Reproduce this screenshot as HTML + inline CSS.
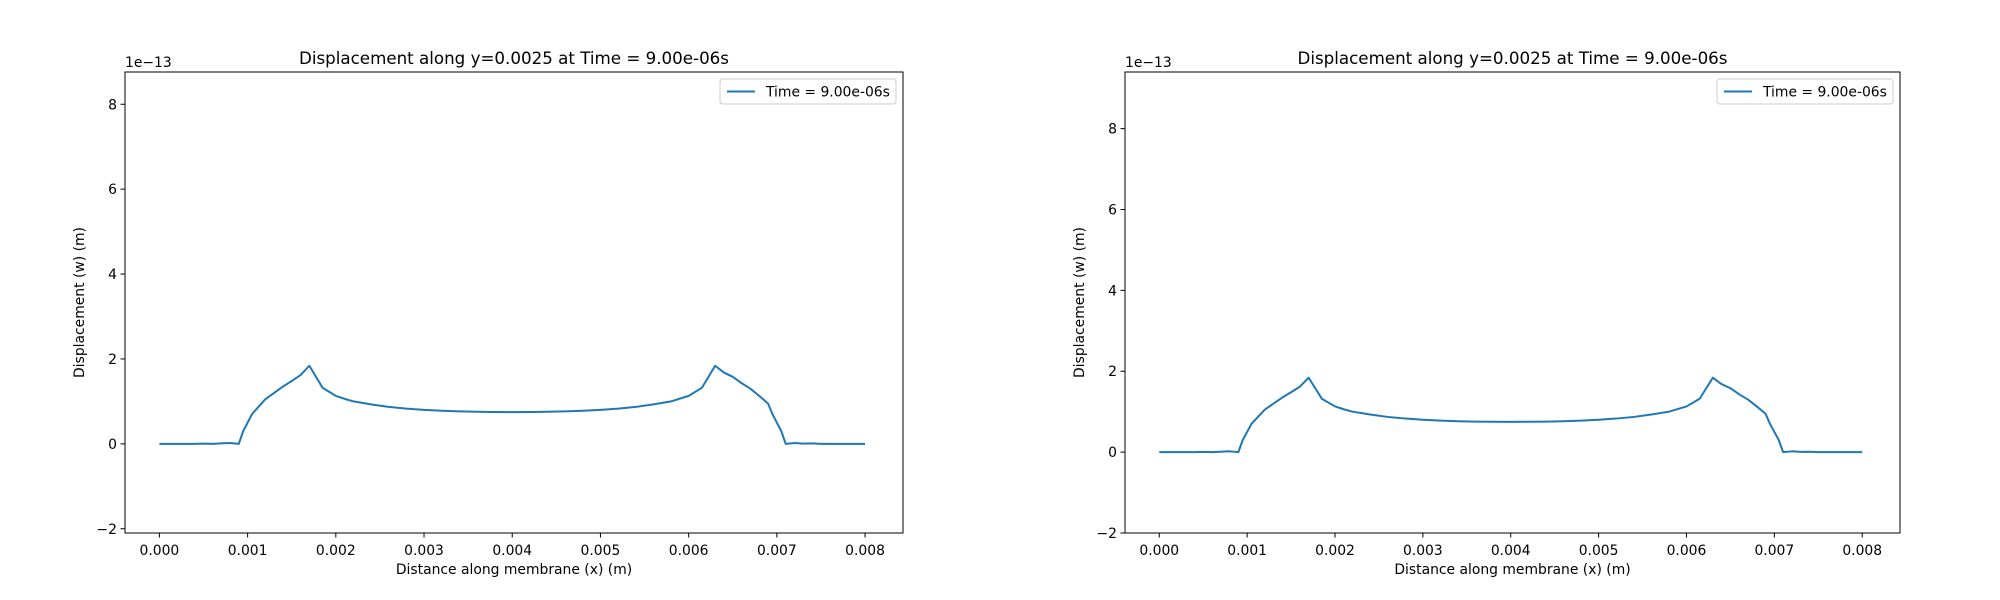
<!DOCTYPE html>
<html><head><meta charset="utf-8"><style>
body{margin:0;background:#fff;}
svg{display:block;font-family:"DejaVu Sans","Liberation Sans",sans-serif;}
</style></head><body>
<svg id="chart" width="2000" height="600"></svg>
<script>
const xs = [0,0.0001,0.0002,0.0003,0.0004,0.0005,0.0006,0.0007,0.0008,0.0009,0.00095,0.00105,0.0012,0.0013,0.0014,0.0015,0.0016,0.0017,0.00185,0.002,0.0021,0.0022,0.0024,0.0026,0.0028,0.003,0.0032,0.0034,0.0036,0.0038,0.004,0.0042,0.0044,0.0046,0.0048,0.005,0.0052,0.0054,0.0056,0.0058,0.006,0.00615,0.0063,0.0064,0.0065,0.0066,0.0067,0.0068,0.0069,0.00695,0.00705,0.0071,0.0072,0.0073,0.0074,0.0075,0.0076,0.0077,0.0078,0.0079,0.008];
const ys = [0,0,0,0,0,0.005,0,0.01,0.02,0,0.3,0.7,1.05,1.2,1.35,1.48,1.62,1.84,1.32,1.13,1.06,1.0,0.93,0.87,0.83,0.8,0.78,0.765,0.755,0.75,0.748,0.75,0.755,0.765,0.78,0.8,0.83,0.87,0.93,1.0,1.13,1.32,1.84,1.68,1.58,1.43,1.3,1.13,0.95,0.7,0.3,0,0.02,0.005,0.01,0,0,0,0,0,0];
const xTicks = [0,0.001,0.002,0.003,0.004,0.005,0.006,0.007,0.008];
const xTickLabels = ["0.000","0.001","0.002","0.003","0.004","0.005","0.006","0.007","0.008"];
const yTicks = [-2,0,2,4,6,8];
const yTickLabels = ["\u22122","0","2","4","6","8"];
const panels = [
  {L:125,R:903,T:72,B:533,xmin:-0.00039,xmax:0.00843,ymin:-2.1,ymax:8.76},
  {L:1125,R:1900,T:72,B:533,xmin:-0.00039,xmax:0.00843,ymin:-2.0,ymax:9.4}
];
const NS="http://www.w3.org/2000/svg";
const svg=document.getElementById('chart');
function mk(tag,attrs,parent,text){const e=document.createElementNS(NS,tag);for(const k in attrs)e.setAttribute(k,attrs[k]);if(text!==undefined)e.textContent=text;(parent||svg).appendChild(e);return e;}
panels.forEach((p,pi)=>{
  const g=mk('g',{});
  
  
  const sx=v=>p.L+(v-p.xmin)/(p.xmax-p.xmin)*(p.R-p.L);
  const sy=v=>p.B-(v-p.ymin)/(p.ymax-p.ymin)*(p.B-p.T);
  xTicks.forEach((t,i)=>{
    const x=sx(t);
    const tk=mk('line',{x1:x,x2:x,y1:p.B,y2:p.B+4.5,stroke:'#000','stroke-width':1},g);
    
    
    const lb=mk('text',{x:x,y:p.B+22,'font-size':13.9,'text-anchor':'middle'},g,xTickLabels[i]);
    
    
  });
  yTicks.forEach((t,i)=>{
    const y=sy(t);
    const tk=mk('line',{x1:p.L-4.5,x2:p.L,y1:y,y2:y,stroke:'#000','stroke-width':1},g);
    
    
    const lb=mk('text',{x:p.L-8,y:y+5,'font-size':13.9,'text-anchor':'end'},g,yTickLabels[i]);
    
    
  });
  const d=xs.map((x,i)=>(i?'L':'M')+sx(x).toFixed(2)+','+sy(ys[i]).toFixed(2)).join(' ');
  const ln=mk('path',{d:d,fill:'none',stroke:'#1f77b4','stroke-width':2,'stroke-linejoin':'round'},g);
  
  
  const fr=mk('rect',{x:p.L,y:p.T,width:p.R-p.L,height:p.B-p.T,fill:'none',stroke:'#000','stroke-width':1},g);
  
  
  const ti=mk('text',{x:(p.L+p.R)/2,y:p.T-8,'font-size':16.7,'text-anchor':'middle'},g,'Displacement along y=0.0025 at Time = 9.00e-06s');
  
  
  const off=mk('text',{x:p.L,y:p.T-5,'font-size':13.9},g,'1e\u221213');
  
  
  const xl=mk('text',{x:(p.L+p.R)/2,y:p.B+41,'font-size':13.9,'text-anchor':'middle'},g,'Distance along membrane (x) (m)');
  
  
  const yc=(p.T+p.B)/2;
  const yl=mk('text',{x:p.L-41,y:yc,'font-size':13.9,'text-anchor':'middle',transform:`rotate(-90 ${p.L-41} ${yc})`},g,'Displacement (w) (m)');
  
  
  const lg=mk('g',{},g);
  
  
  mk('rect',{x:p.R-183,y:p.T+7,width:176,height:25,rx:3,fill:'#fff',stroke:'#ccc','stroke-width':1},lg);
  mk('line',{x1:p.R-176,x2:p.R-148,y1:p.T+19.5,y2:p.T+19.5,stroke:'#1f77b4','stroke-width':2},lg);
  const lt=mk('text',{x:p.R-137,y:p.T+24.5,'font-size':13.9},lg,'Time = 9.00e-06s');
  
  
});
</script>
</body></html>
